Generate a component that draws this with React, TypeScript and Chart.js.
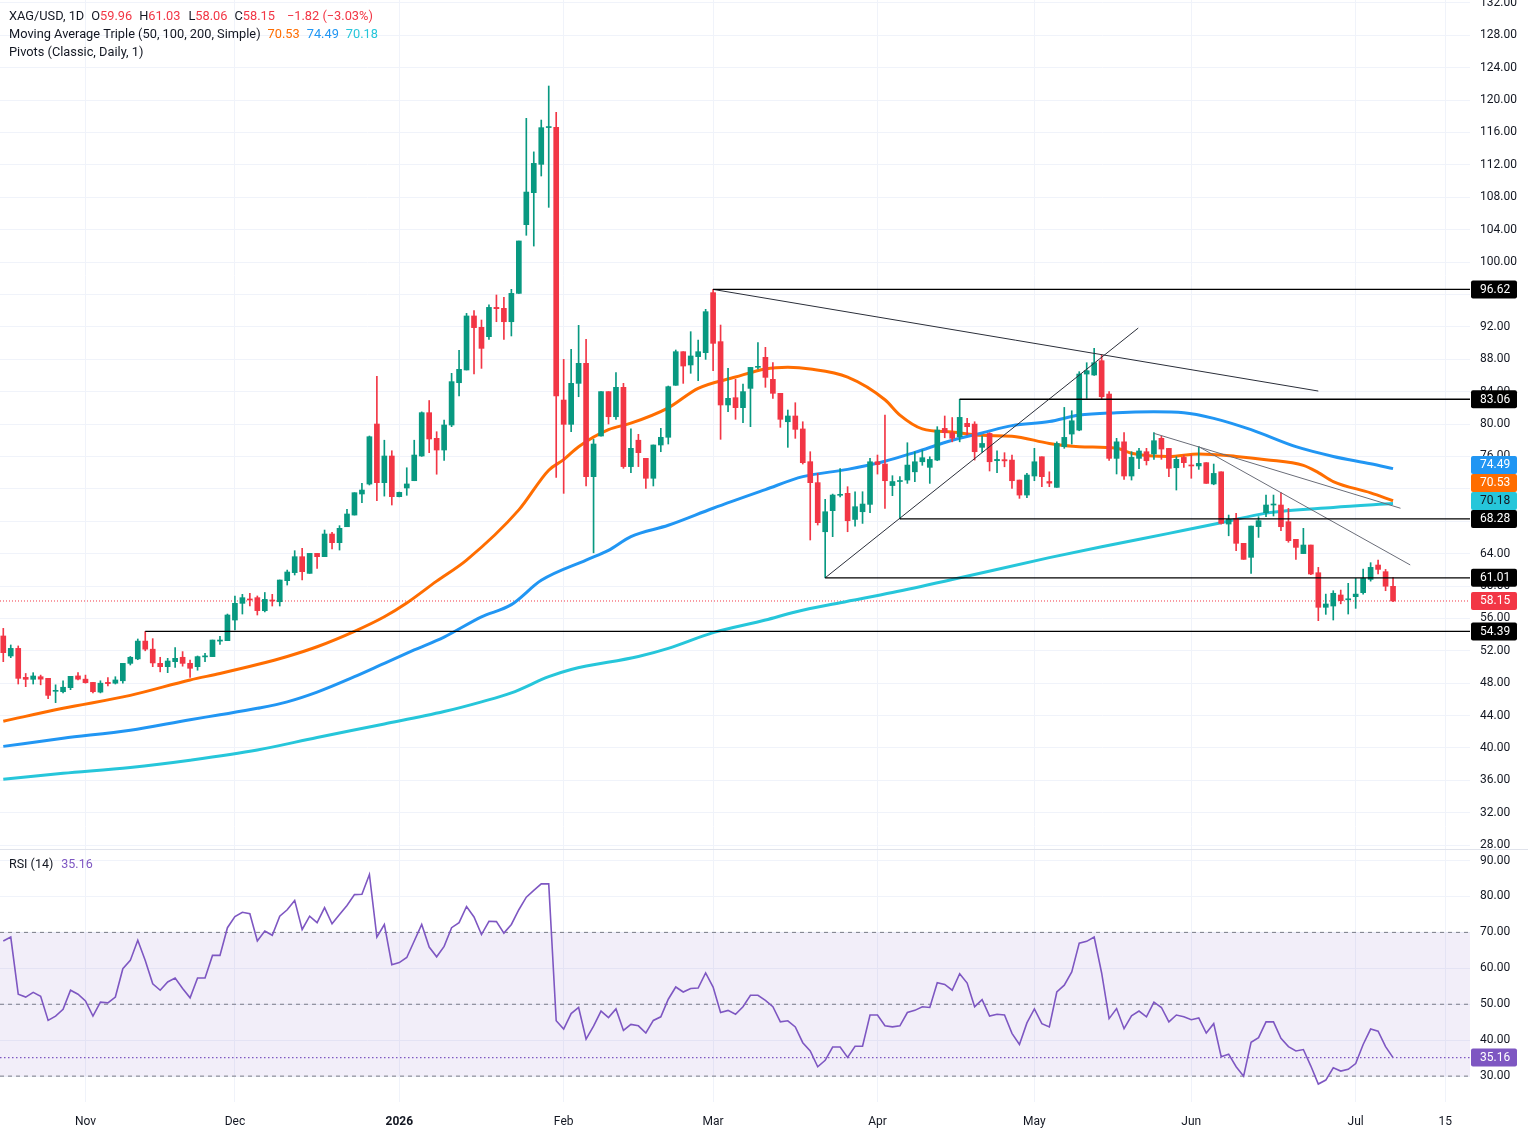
import React, { useEffect, useRef } from "react";
import { Chart, registerables } from "chart.js";

Chart.register(...registerables);

const FONT = "Roboto, 'Liberation Sans', sans-serif";
const GREEN = "#089981";
const RED = "#f23645";
const ORANGE = "#ff6d00";
const BLUE = "#2196f3";
const TEAL = "#26c6da";
const PURPLE = "#7e57c2";
const DARK = "#131722";

// ---- candles (index = trading day) ----
const opens = [
  53.83, 51.36, 52.3, 48.72, 48.48, 48.8, 48.6, 47.0, 46.95, 47.45,
  48.9, 48.5, 48.1, 46.9, 48.1, 48.0, 48.3, 50.45, 51.0, 53.2,
  52.2, 50.45, 50.04, 50.66, 51.2, 50.45, 50.04, 51.25, 51.28, 53.2,
  53.25, 55.8, 57.86, 58.4, 58.56, 56.95, 58.27, 58.06, 60.66, 61.65,
  63.62, 61.56, 64.03, 63.62, 66.42, 65.35, 67.32, 68.76, 71.36, 72.59,
  80.0, 72.76, 76.05, 71.03, 72.1, 73.0, 76.05, 81.4, 78.23, 76.79,
  79.88, 85.1, 86.67, 93.34, 91.94, 90.78, 94.4, 94.28, 92.63, 96.13,
  104.61, 108.56, 112.06, 116.6, 116.63, 82.96, 79.96, 85.02, 87.49, 73.5,
  78.52, 84.0, 80.9, 84.53, 74.74, 78.0, 75.76, 73.3, 77.41, 78.36,
  84.78, 88.93, 87.29, 88.32, 88.81, 96.22, 90.17, 82.35, 83.25, 82.02,
  84.4, 87.0, 88.23, 85.52, 83.79, 80.28, 80.99, 79.39, 75.35, 72.76,
  66.7, 69.3, 71.2, 71.44, 68.22, 69.17, 70.08, 75.34, 75.06, 72.4,
  72.9, 73.08, 74.1, 75.34, 74.65, 75.55, 79.46, 78.93, 78.43, 80.08,
  79.99, 77.12, 78.84, 75.47, 75.6, 75.55, 73.08, 71.23, 73.58, 75.96,
  72.9, 72.18, 77.2, 78.76, 79.25, 86.17, 86.05, 87.82, 83.7, 75.76,
  77.8, 73.58, 75.76, 76.58, 76.3, 78.23, 76.99, 74.6, 75.88, 74.94,
  74.82, 75.23, 72.6, 74.1, 67.65, 68.35, 65.27, 63.54, 67.33, 69.05,
  70.0, 70.0, 67.94, 65.76, 64.0, 65.06, 61.64, 57.37, 57.53, 58.89,
  58.3, 58.68, 59.18, 60.82, 62.59, 61.77, 59.96,
];
const highs = [
  54.77, 52.72, 52.6, 49.2, 49.3, 49.0, 48.6, 47.8, 48.3, 48.85,
  49.3, 49.0, 48.1, 48.3, 48.7, 48.8, 50.45, 51.3, 53.46, 54.39,
  53.5, 51.2, 51.07, 52.4, 51.9, 50.86, 51.36, 51.7, 53.33, 53.8,
  56.54, 58.77, 58.97, 59.1, 58.77, 59.2, 58.97, 60.74, 61.97, 64.36,
  64.65, 64.03, 64.03, 66.91, 66.62, 67.45, 69.46, 71.52, 72.67, 78.52,
  85.9, 78.0, 76.7, 71.6, 74.6, 78.0, 81.5, 82.9, 79.05, 80.5,
  86.26, 89.1, 93.66, 94.0, 92.84, 94.7, 95.93, 95.64, 96.63, 102.6,
  117.74, 113.6, 117.53, 121.73, 118.48, 87.98, 89.22, 92.18, 90.45, 78.1,
  84.0, 84.0, 86.34, 85.02, 79.4, 78.73, 75.76, 77.41, 79.47, 84.69,
  89.14, 88.93, 91.4, 90.37, 94.16, 96.62, 92.22, 86.87, 85.52, 84.94,
  86.99, 90.04, 89.47, 87.57, 83.79, 81.73, 82.63, 80.28, 76.58, 73.91,
  70.7, 71.35, 74.5, 72.26, 71.64, 71.64, 75.76, 76.17, 81.1, 73.62,
  73.5, 77.69, 76.58, 76.79, 75.96, 79.67, 80.99, 80.8, 83.06, 80.7,
  80.28, 78.5, 78.93, 76.7, 76.46, 76.17, 73.08, 73.9, 77.0, 75.96,
  74.1, 77.8, 82.05, 81.64, 86.46, 87.57, 89.34, 88.51, 83.99, 78.23,
  78.93, 76.58, 77.0, 77.0, 78.93, 78.5, 76.99, 75.96, 76.17, 76.17,
  77.2, 75.23, 75.06, 74.1, 68.76, 68.97, 65.27, 67.4, 68.56, 71.23,
  71.23, 71.52, 69.58, 65.76, 67.12, 65.06, 62.3, 59.0, 59.42, 59.5,
  60.33, 60.94, 62.1, 62.88, 63.21, 62.05, 61.03,
];
const lows = [
  50.66, 51.15, 47.9, 47.57, 47.9, 47.8, 46.1, 45.6, 46.8, 47.2,
  48.4, 48.0, 46.8, 46.8, 47.65, 47.9, 48.0, 50.25, 50.9, 52.0,
  50.04, 49.4, 49.3, 49.96, 50.1, 48.7, 49.6, 50.66, 51.28, 52.8,
  53.25, 54.57, 56.54, 57.53, 56.42, 56.8, 57.53, 57.53, 60.12, 61.36,
  60.74, 61.56, 62.18, 63.62, 64.57, 64.44, 67.32, 68.76, 70.29, 72.47,
  70.53, 71.1, 70.0, 71.0, 71.2, 73.0, 76.0, 76.46, 73.8, 75.5,
  79.67, 83.46, 86.67, 86.2, 86.87, 90.45, 92.63, 90.45, 90.87, 96.13,
  103.3, 101.97, 110.62, 106.75, 73.4, 71.44, 79.06, 83.37, 72.35, 64.1,
  78.5, 80.0, 80.58, 74.53, 74.0, 74.74, 72.06, 72.35, 76.58, 77.53,
  84.78, 85.02, 86.26, 85.35, 87.98, 86.59, 78.11, 81.52, 80.58, 80.17,
  79.67, 86.8, 84.53, 83.17, 79.59, 77.12, 78.23, 75.06, 65.68, 67.53,
  61.01, 66.09, 71.0, 66.7, 67.4, 67.73, 69.05, 73.82, 69.58, 71.15,
  68.28, 72.67, 72.88, 74.9, 72.67, 75.47, 78.3, 77.8, 77.8, 78.64,
  75.55, 76.5, 74.2, 74.0, 74.72, 72.06, 70.82, 70.9, 73.0, 72.26,
  72.26, 72.18, 77.0, 77.53, 79.17, 83.16, 86.0, 83.04, 75.5, 73.83,
  73.17, 73.08, 74.5, 74.94, 75.64, 75.64, 73.5, 71.85, 74.65, 73.3,
  74.4, 72.67, 72.5, 67.65, 66.2, 64.36, 63.29, 61.56, 66.0, 68.56,
  68.64, 66.83, 65.4, 63.29, 64.0, 61.4, 55.72, 56.5, 55.8, 57.8,
  56.54, 57.24, 59.0, 60.6, 61.48, 59.42, 58.06,
];
const closes = [
  51.77, 52.3, 48.6, 48.48, 48.89, 48.5, 46.5, 47.1, 47.5, 48.85,
  48.5, 48.07, 46.95, 48.0, 47.95, 48.4, 50.45, 51.2, 53.2, 52.2,
  50.5, 50.04, 50.74, 51.07, 50.45, 49.84, 51.28, 51.36, 53.33, 53.33,
  56.42, 57.86, 58.56, 58.27, 56.96, 58.35, 58.15, 60.74, 61.73, 63.62,
  61.77, 64.03, 63.62, 66.42, 65.35, 67.12, 68.89, 71.52, 71.85, 78.43,
  72.76, 76.05, 71.03, 71.56, 72.6, 76.17, 81.4, 78.15, 76.79, 79.88,
  85.23, 86.75, 93.34, 91.9, 89.34, 94.4, 94.24, 92.63, 96.13, 102.6,
  108.64, 112.18, 116.59, 116.63, 83.46, 79.96, 85.02, 87.49, 73.5, 77.53,
  84.0, 80.9, 84.53, 74.74, 77.0, 76.46, 73.3, 77.41, 78.36, 84.61,
  88.93, 87.16, 88.4, 88.93, 93.87, 89.96, 82.35, 83.17, 82.02, 84.0,
  86.99, 87.1, 85.76, 83.79, 80.58, 80.99, 79.34, 75.23, 72.76, 67.82,
  69.17, 71.23, 71.3, 68.06, 69.79, 70.12, 75.34, 75.0, 73.0, 72.9,
  73.0, 74.93, 75.34, 75.84, 75.63, 79.25, 78.93, 78.23, 80.82, 79.67,
  76.58, 77.6, 75.34, 75.63, 75.45, 73.0, 71.23, 73.7, 75.34, 73.5,
  72.7, 77.6, 78.35, 80.4, 86.17, 86.58, 87.57, 83.37, 75.76, 77.8,
  73.58, 75.88, 76.67, 75.47, 77.94, 76.91, 74.53, 75.64, 75.23, 74.82,
  75.14, 72.67, 73.9, 67.73, 68.23, 65.27, 63.29, 67.4, 68.06, 70.0,
  70.05, 67.32, 65.6, 64.77, 65.06, 61.48, 57.37, 57.78, 59.1, 58.19,
  58.4, 59.0, 60.94, 62.3, 62.05, 59.97, 58.15,
];

// ---- RSI(14) ----
const rsi = [
  67.6, 68.7, 52.8, 52.0, 53.3, 52.2, 45.5, 46.7, 48.6, 53.9,
  52.8, 50.9, 46.7, 50.6, 50.4, 52.0, 59.9, 62.2, 67.8, 62.2,
  55.7, 53.9, 56.2, 57.3, 54.4, 51.8, 57.3, 57.3, 63.6, 63.6,
  71.3, 74.4, 75.6, 75.2, 67.6, 70.4, 69.2, 74.5, 76.3, 78.9,
  70.8, 74.5, 72.7, 76.9, 72.4, 75.0, 77.5, 80.5, 80.6, 86.1,
  68.7, 72.2, 61.0, 61.6, 63.0, 67.6, 72.2, 65.9, 63.2, 66.1,
  71.3, 72.7, 77.2, 74.3, 69.4, 73.1, 73.0, 69.8, 72.2, 76.3,
  79.8, 81.7, 83.5, 83.5, 45.4, 43.1, 47.4, 49.1, 40.3, 43.9,
  48.1, 46.3, 48.7, 42.7, 44.4, 44.0, 42.0, 45.5, 46.5, 51.4,
  54.8, 53.4, 54.4, 54.5, 58.7, 54.8, 47.7, 48.3, 47.2, 49.3,
  52.5, 52.5, 51.1, 49.3, 45.1, 45.4, 43.7, 39.3, 37.0, 32.6,
  34.4, 38.1, 38.1, 35.2, 38.3, 38.3, 47.0, 47.0, 44.0, 43.7,
  44.0, 47.7, 48.3, 49.3, 49.1, 56.0, 55.5, 53.9, 58.5, 55.9,
  49.3, 51.3, 46.7, 47.2, 47.0, 41.9, 38.8, 44.8, 48.7, 44.6,
  43.7, 53.4, 55.3, 59.0, 67.0, 67.5, 68.7, 58.7, 46.0, 48.8,
  43.2, 46.8, 48.1, 46.5, 50.6, 49.1, 45.1, 47.0, 46.5, 45.7,
  46.2, 42.0, 44.6, 35.4, 36.1, 32.6, 30.0, 39.4, 40.7, 45.1,
  45.1, 40.5, 38.2, 37.0, 37.4, 32.8, 27.8, 28.9, 32.3, 31.4,
  31.9, 33.5, 38.8, 43.1, 42.5, 38.2, 35.16,
];

// ---- moving averages (read at sampled bar indices) ----
const ma50Idx = [0, 8, 17, 25, 29, 34, 38, 42, 47, 51, 54, 58, 62, 69, 73, 75, 77, 81, 84, 89, 93, 98, 102, 105, 108, 113, 118, 120, 123, 127, 131, 135, 140, 144, 149, 151, 156, 160, 165, 169, 174, 176, 178, 183, 186];
const ma50Val = [43.3, 44.9, 46.5, 48.4, 49.2, 50.3, 51.3, 52.5, 54.4, 56.2, 57.9, 60.6, 63.2, 69.4, 74.3, 75.6, 77.2, 79.3, 80.1, 82.0, 84.4, 85.8, 86.8, 87.0, 86.8, 85.8, 83.0, 81.1, 79.4, 79.0, 78.6, 78.5, 77.6, 77.2, 77.0, 76.4, 76.0, 76.3, 76.0, 75.6, 74.9, 74.0, 72.9, 71.5, 70.53];
const ma100Idx = [0, 8, 17, 25, 29, 34, 38, 42, 47, 51, 55, 59, 64, 68, 72, 78, 81, 84, 89, 95, 102, 107, 113, 118, 122, 127, 131, 135, 140, 144, 149, 154, 158, 162, 167, 173, 178, 183, 186];
const ma100Val = [40.2, 41.2, 42.2, 43.5, 44.1, 44.9, 45.7, 46.9, 48.8, 50.45, 52.1, 53.7, 56.2, 57.7, 60.7, 63.2, 64.4, 66.1, 67.5, 69.6, 71.9, 73.5, 74.4, 75.4, 76.5, 78.0, 78.9, 79.8, 80.3, 81.1, 81.4, 81.5, 81.4, 80.7, 79.3, 77.2, 76.0, 75.1, 74.49];
const ma200Idx = [0, 8, 17, 25, 34, 42, 51, 59, 64, 68, 73, 76, 85, 89, 95, 102, 106, 112, 119, 127, 140, 147, 156, 163, 169, 178, 186];
const ma200Val = [36.15, 36.87, 37.6, 38.5, 39.75, 41.3, 42.96, 44.5, 45.7, 46.8, 48.8, 49.7, 51.3, 52.3, 54.24, 55.8, 56.8, 57.94, 59.2, 60.8, 63.5, 64.85, 66.5, 67.8, 69.0, 69.7, 70.18];

// ---- pivots and trendlines ----
const pivotVal = [96.62, 83.06, 68.28, 61.01, 54.39];
const pivotStart = [95, 128, 120, 110, 19];
const trendFromIdx = [95, 110, 154, 160];
const trendFromVal = [96.62, 61.01, 78.85, 77.2];
const trendToIdx = [176, 151.9, 187, 188.3];
const trendToVal = [84.07, 91.85, 69.6, 62.6];
const trendColor = ["#2a2e39", "#2a2e39", "#6a6d78", "#6a6d78"];

// ---- axes ----
const tickIdx = [11, 31, 53, 75, 95, 117, 138, 159, 181, 193];
const tickLabels = ["Nov", "Dec", "2026", "Feb", "Mar", "Apr", "May", "Jun", "Jul", "15"];
const priceTicks = [28, 32, 36, 40, 44, 48, 52, 56, 60, 64, 68, 72, 76, 80, 84, 88, 92, 96, 100, 104, 108, 112, 116, 120, 124, 128, 132];
const rsiTicks = [30, 40, 50, 60, 70, 80, 90];
const rsiLevels = [70, 50, 30];

const X_MIN = -0.44;
const X_MAX = 196.3;

const fmt = (v: number) => v.toFixed(2);
const minus = (s: string) => s.replace("-", "\u2212");

function buildConfig(): any {
  const last = closes.length - 1;
  const candleColors = closes.map((c, i) => (c >= opens[i] ? GREEN : RED));
  const lineBase = { pointRadius: 0, pointHoverRadius: 0, fill: false, type: "line" };

  const datasets: any[] = [];
  // pivots
  pivotVal.forEach((v, k) => {
    datasets.push({
      ...lineBase,
      data: [{ x: pivotStart[k], y: v }, { x: X_MAX, y: v }],
      borderColor: "#000000",
      borderWidth: 1.3,
      yAxisID: "y",
      order: 0,
    });
  });
  // trendlines
  trendFromIdx.forEach((x0, k) => {
    datasets.push({
      ...lineBase,
      data: [{ x: x0, y: trendFromVal[k] }, { x: trendToIdx[k], y: trendToVal[k] }],
      borderColor: trendColor[k],
      borderWidth: 1,
      yAxisID: "y",
      order: 0,
    });
  });
  // candles
  datasets.push({
    type: "bar",
    data: opens.map((o, i) => ({ x: i, y: [o, closes[i]] })),
    backgroundColor: candleColors,
    barThickness: 5,
    minBarLength: 1,
    grouped: false,
    yAxisID: "y",
    order: 1,
  });
  datasets.push({
    type: "bar",
    data: lows.map((l, i) => ({ x: i, y: [l, highs[i]] })),
    backgroundColor: candleColors,
    barThickness: 1,
    grouped: false,
    yAxisID: "y",
    order: 2,
  });
  // moving averages
  const maLine = (idx: number[], val: number[], color: string) => ({
    ...lineBase,
    data: idx.map((x, k) => ({ x, y: val[k] })),
    borderColor: color,
    borderWidth: 3,
    cubicInterpolationMode: "monotone",
    yAxisID: "y",
    order: 3,
  });
  datasets.push(maLine(ma200Idx, ma200Val, TEAL));
  datasets.push(maLine(ma100Idx, ma100Val, BLUE));
  datasets.push(maLine(ma50Idx, ma50Val, ORANGE));
  // current price dotted line
  datasets.push({
    ...lineBase,
    data: [{ x: X_MIN, y: closes[last] }, { x: X_MAX, y: closes[last] }],
    borderColor: RED,
    borderWidth: 1,
    borderDash: [1, 2],
    yAxisID: "y",
    order: 4,
  });
  // RSI band
  datasets.push({
    ...lineBase,
    data: [{ x: X_MIN, y: rsiLevels[0] }, { x: X_MAX, y: rsiLevels[0] }],
    borderColor: "rgba(0,0,0,0)",
    borderWidth: 0,
    fill: { value: rsiLevels[2] },
    backgroundColor: "rgba(126,87,194,0.1)",
    yAxisID: "y2",
    order: 9,
  });
  rsiLevels.forEach((lv) => {
    datasets.push({
      ...lineBase,
      data: [{ x: X_MIN, y: lv }, { x: X_MAX, y: lv }],
      borderColor: "#787b86",
      borderWidth: 1,
      borderDash: [4, 4],
      yAxisID: "y2",
      order: 8,
    });
  });
  datasets.push({
    ...lineBase,
    data: [{ x: X_MIN, y: rsi[last] }, { x: X_MAX, y: rsi[last] }],
    borderColor: PURPLE,
    borderWidth: 1.2,
    borderDash: [1.5, 2.5],
    yAxisID: "y2",
    order: 7,
  });
  datasets.push({
    ...lineBase,
    data: rsi.map((v, i) => ({ x: i, y: v })),
    borderColor: PURPLE,
    borderWidth: 1.6,
    yAxisID: "y2",
    order: 0,
  });

  const gridColor = "#f0f3fa";
  const yAfterFit = (s: any) => {
    s.width = 58;
    s.paddingTop = 0;
    s.paddingBottom = 0;
  };

  const overlay = {
    id: "overlay",
    afterDraw(chart: any) {
      const ctx = chart.ctx;
      const ys = chart.scales.y;
      const rs = chart.scales.y2;
      ctx.save();
      ctx.strokeStyle = "#e0e3eb";
      ctx.lineWidth = 1;
      ctx.beginPath();
      const sepY = Math.round(ys.bottom) + 0.5;
      ctx.moveTo(0, sepY);
      ctx.lineTo(chart.width, sepY);
      ctx.stroke();

      ctx.textBaseline = "middle";
      ctx.textAlign = "left";
      // draws groups of coloured runs, separated by gaps (px)
      const line = (x: number, y: number, groups: { gap: number; parts: [string, string][] }[]) => {
        let cx = x;
        groups.forEach((g) => {
          cx += g.gap;
          g.parts.forEach(([t, c]) => {
            ctx.fillStyle = c;
            ctx.fillText(t, cx, y);
            cx += ctx.measureText(t).width;
          });
        });
      };
      const chg = closes[last] - closes[last - 1];
      const pct = (chg / closes[last - 1]) * 100;
      ctx.font = `12.8px ${FONT}`;
      line(9, 17, [
        { gap: 0, parts: [["XAG/USD, 1D", DARK]] },
        { gap: 7, parts: [["O", DARK], [fmt(opens[last]), RED]] },
        { gap: 7, parts: [["H", DARK], [fmt(highs[last]), RED]] },
        { gap: 8, parts: [["L", DARK], [fmt(lows[last]), RED]] },
        { gap: 7, parts: [["C", DARK], [fmt(closes[last]), RED]] },
        { gap: 12, parts: [[`${minus(fmt(chg))} (${minus(fmt(pct))}%)`, RED]] },
      ]);
      line(9, 35, [
        { gap: 0, parts: [["Moving Average Triple (50, 100, 200, Simple)", DARK]] },
        { gap: 7, parts: [[fmt(ma50Val[ma50Val.length - 1]), ORANGE]] },
        { gap: 7, parts: [[fmt(ma100Val[ma100Val.length - 1]), BLUE]] },
        { gap: 7, parts: [[fmt(ma200Val[ma200Val.length - 1]), TEAL]] },
      ]);
      line(9, 53, [{ gap: 0, parts: [["Pivots (Classic, Daily, 1)", DARK]] }]);
      ctx.font = `12.5px ${FONT}`;
      line(9, 865, [
        { gap: 0, parts: [["RSI (14)", DARK]] },
        { gap: 8, parts: [[fmt(rsi[last]), PURPLE]] },
      ]);

      ctx.font = `12px ${FONT}`;
      const box = (y: number, text: string, bg: string, fg: string) => {
        ctx.fillStyle = bg;
        ctx.beginPath();
        (ctx as any).roundRect(1471, y - 9, 46, 18, 2);
        ctx.fill();
        ctx.fillStyle = fg;
        ctx.fillText(text, 1480, y + 0.5);
      };
      const labels: { v: number; bg: string; fg: string }[] = [
        ...pivotVal.map((v) => ({ v, bg: "#000000", fg: "#ffffff" })),
        { v: ma100Val[ma100Val.length - 1], bg: BLUE, fg: "#ffffff" },
        { v: ma50Val[ma50Val.length - 1], bg: ORANGE, fg: "#ffffff" },
        { v: ma200Val[ma200Val.length - 1], bg: TEAL, fg: DARK },
        { v: closes[last], bg: RED, fg: "#ffffff" },
      ].sort((a, b) => a.v - b.v);
      let prev = Infinity;
      labels.forEach((l) => {
        let y = ys.getPixelForValue(l.v);
        if (y > prev - 18) y = prev - 18;
        prev = y;
        box(y, fmt(l.v), l.bg, l.fg);
      });
      box(rs.getPixelForValue(rsi[last]), fmt(rsi[last]), PURPLE, "#ffffff");
      ctx.restore();
    },
  };

  return {
    type: "line",
    data: { datasets },
    plugins: [overlay],
    options: {
      animation: false,
      responsive: true,
      maintainAspectRatio: false,
      events: [],
      layout: { padding: 0 },
      plugins: { legend: { display: false }, tooltip: { enabled: false } },
      scales: {
        x: {
          type: "linear",
          position: "bottom",
          min: X_MIN,
          max: X_MAX,
          offset: false,
          afterBuildTicks: (s: any) => {
            s.ticks = tickIdx.map((v) => ({ value: v }));
          },
          afterFit: (s: any) => {
            s.height = 33;
            s.paddingLeft = 0;
            s.paddingRight = 0;
          },
          ticks: {
            autoSkip: false,
            maxRotation: 0,
            padding: 13,
            color: DARK,
            callback: (_v: any, i: number) => tickLabels[i],
            font: (c: any) => ({ family: FONT, size: 12, weight: tickLabels[c.index] === "2026" ? "bold" : "normal" }),
          },
          grid: { color: gridColor, drawTicks: false, offset: false },
          border: { display: false },
        },
        y: {
          type: "linear",
          position: "right",
          stack: "panes",
          stackWeight: 849,
          min: 27.53,
          max: 132.35,
          afterBuildTicks: (s: any) => {
            s.ticks = priceTicks.map((v) => ({ value: v }));
          },
          afterFit: yAfterFit,
          ticks: { autoSkip: false, padding: 10, color: DARK, font: { family: FONT, size: 12 }, callback: (v: any) => fmt(Number(v)) },
          grid: { color: gridColor, drawTicks: false },
          border: { display: false },
        },
        y2: {
          type: "linear",
          position: "right",
          stack: "panes",
          stackWeight: 253,
          min: 22.8,
          max: 93.2,
          afterBuildTicks: (s: any) => {
            s.ticks = rsiTicks.map((v) => ({ value: v }));
          },
          afterFit: yAfterFit,
          ticks: { autoSkip: false, padding: 10, color: DARK, font: { family: FONT, size: 12 }, callback: (v: any) => fmt(Number(v)) },
          grid: { color: gridColor, drawTicks: false },
          border: { display: false },
        },
      },
    },
  };
}

export default function App() {
  const ref = useRef<HTMLCanvasElement>(null);
  useEffect(() => {
    document.body.style.margin = "0";
    const chart = new Chart(ref.current as HTMLCanvasElement, buildConfig());
    return () => chart.destroy();
  }, []);
  return (
    <div style={{ position: "fixed", left: 0, top: 0, width: 1528, height: 1135, background: "#ffffff" }}>
      <canvas ref={ref} />
    </div>
  );
}
